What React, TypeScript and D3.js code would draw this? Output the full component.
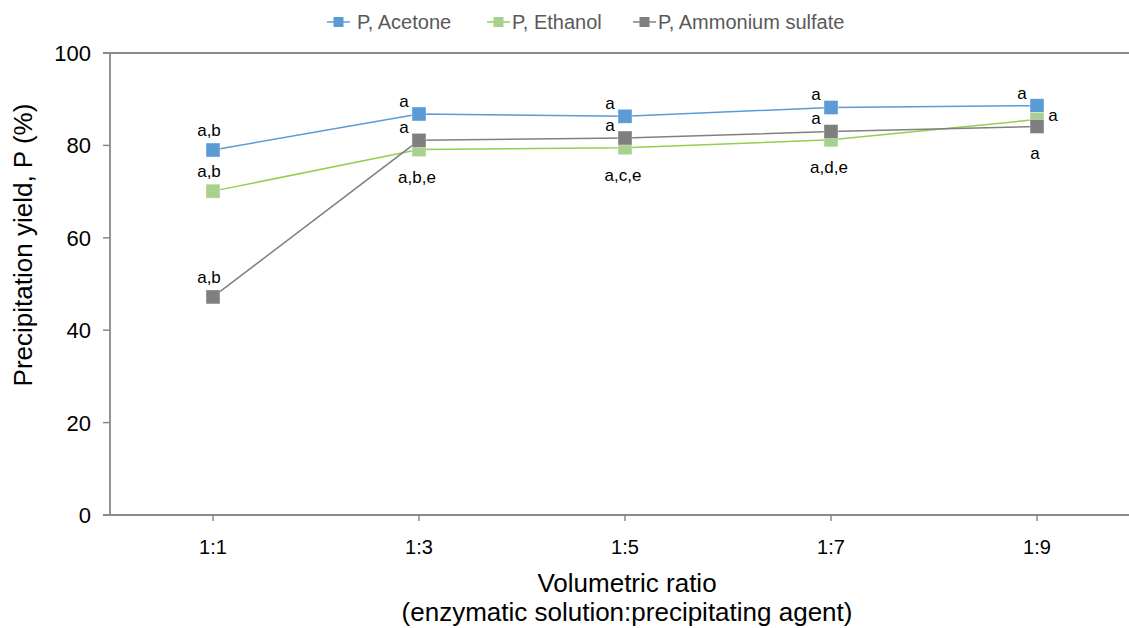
import React from 'react';
import * as d3 from 'd3';

const ratios = ['1:1', '1:3', '1:5', '1:7', '1:9'];
const yTicks = [0, 20, 40, 60, 80, 100];

const acetone = [79.0, 86.8, 86.3, 88.2, 88.6];
const ethanol = [70.1, 79.1, 79.5, 81.2, 85.6];
const ammonium = [47.2, 81.1, 81.6, 83.0, 84.1];

const acetoneLabels = ['a,b', 'a', 'a', 'a', 'a'];
const ethanolLabels = ['a,b', 'a,b,e', 'a,c,e', 'a,d,e', 'a'];
const ammoniumLabels = ['a,b', 'a', 'a', 'a', 'a'];

const acetoneSpots = ['above', 'aboveLeft', 'aboveLeft', 'aboveLeft', 'aboveLeft'];
const ethanolSpots = ['above', 'below', 'below', 'below', 'right'];
const ammoniumSpots = ['above', 'aboveLeft', 'aboveLeft', 'aboveLeft', 'below'];

const series = [
    { name: 'P, Acetone', values: acetone, labels: acetoneLabels, spots: acetoneSpots, line: '#5b9bd5', fill: '#5b9bd5' },
    { name: 'P, Ethanol', values: ethanol, labels: ethanolLabels, spots: ethanolSpots, line: '#92d050', fill: '#a9d18e' },
    { name: 'P, Ammonium sulfate', values: ammonium, labels: ammoniumLabels, spots: ammoniumSpots, line: '#808080', fill: '#7f7f7f' },
];

const W = 1129;
const H = 628;
const margin = { top: 53, right: -11, bottom: 113, left: 110 };
const font = 'Liberation Sans, Arial, sans-serif';
const axisColor = '#898989';

// offset of a label centre from its marker
const spotOffset = (spot: string) => {
    switch (spot) {
        case 'above': return { dx: -4, dy: -20 };
        case 'aboveLeft': return { dx: -15, dy: -13 };
        case 'below': return { dx: -2, dy: 27 };
        case 'right': return { dx: 16, dy: -4 };
        default: return { dx: 0, dy: 0 };
    }
};

const App = () => {
    const x = d3.scaleBand<string>()
        .domain(ratios)
        .range([margin.left, W - margin.right]);
    const y = d3.scaleLinear()
        .domain([0, 100])
        .range([H - margin.bottom, margin.top]);
    const cx = (r: string) => (x(r) ?? 0) + x.bandwidth() / 2;

    const line = d3.line<number>()
        .x((_, i) => cx(ratios[i]))
        .y(d => y(d));

    const m = 14; // marker size
    const x0 = margin.left;
    const x1 = W - margin.right;
    const y0 = y(0);
    const yTop = y(100);

    const legendItems = [
        { s: series[0], lx: 327, tx: 357 },
        { s: series[1], lx: 487, tx: 512 },
        { s: series[2], lx: 633, tx: 658 },
    ];

    return (
        <svg width={W} height={H} style={{ position: 'absolute', left: 0, top: 0, background: '#fff' }} fontFamily={font}>
            {/* frame */}
            <line x1={x0 - 7} x2={x1} y1={yTop} y2={yTop} stroke={axisColor} strokeWidth={1.8} />
            <line x1={x0 - 7} x2={x1} y1={y0} y2={y0} stroke={axisColor} strokeWidth={1.8} />
            <line x1={x0} x2={x0} y1={yTop} y2={y0} stroke={axisColor} strokeWidth={1.8} />

            {/* y ticks */}
            {yTicks.map(t => (
                <g key={t}>
                    <line x1={x0 - 7} x2={x0} y1={y(t)} y2={y(t)} stroke={axisColor} strokeWidth={1.5} />
                    <text x={x0 - 19} y={y(t)} dy="0.36em" textAnchor="end" fontSize={22} fill="#000">{t}</text>
                </g>
            ))}

            {/* x ticks */}
            {ratios.map(r => (
                <g key={r}>
                    <line x1={cx(r)} x2={cx(r)} y1={y0} y2={y0 + 6} stroke={axisColor} strokeWidth={1.5} />
                    <text x={cx(r)} y={y0 + 39} textAnchor="middle" fontSize={20} fill="#000">{r}</text>
                </g>
            ))}

            {/* axis titles */}
            <text x={627} y={592} textAnchor="middle" fontSize={26} fill="#000">Volumetric ratio</text>
            <text x={627} y={621} textAnchor="middle" fontSize={26} fill="#000">(enzymatic solution:precipitating agent)</text>
            <text transform={`translate(32,245) rotate(-90)`} textAnchor="middle" fontSize={26} fill="#000">
                Precipitation yield, P (%)
            </text>

            {/* lines and markers */}
            {series.map(s => (
                <g key={s.name}>
                    <path d={line(s.values) ?? ''} fill="none" stroke={s.line} strokeWidth={1.5} />
                    {s.values.map((v, i) => (
                        <rect key={i} x={cx(ratios[i]) - m / 2} y={y(v) - m / 2} width={m} height={m}
                            fill={s.fill} stroke="#ffffff" strokeOpacity={0.5} strokeWidth={0.75} />
                    ))}
                </g>
            ))}

            {/* significance letters */}
            {series.map(s => s.values.map((v, i) => {
                const o = spotOffset(s.spots[i]);
                return (
                    <text key={s.name + i} x={cx(ratios[i]) + o.dx} y={y(v) + o.dy} dy="0.35em"
                        textAnchor="middle" fontSize={17} fill="#000">{s.labels[i]}</text>
                );
            }))}

            {/* legend */}
            {legendItems.map(({ s, lx, tx }) => (
                <g key={s.name}>
                    <line x1={lx} x2={lx + 23} y1={22} y2={22} stroke={s.line} strokeWidth={1.5} />
                    <rect x={lx + 6.5} y={17} width={10} height={10} fill={s.fill} />
                    <text x={tx} y={22} dy="0.36em" fontSize={20} fill="#595959">{s.name}</text>
                </g>
            ))}
        </svg>
    );
};

export default App;
